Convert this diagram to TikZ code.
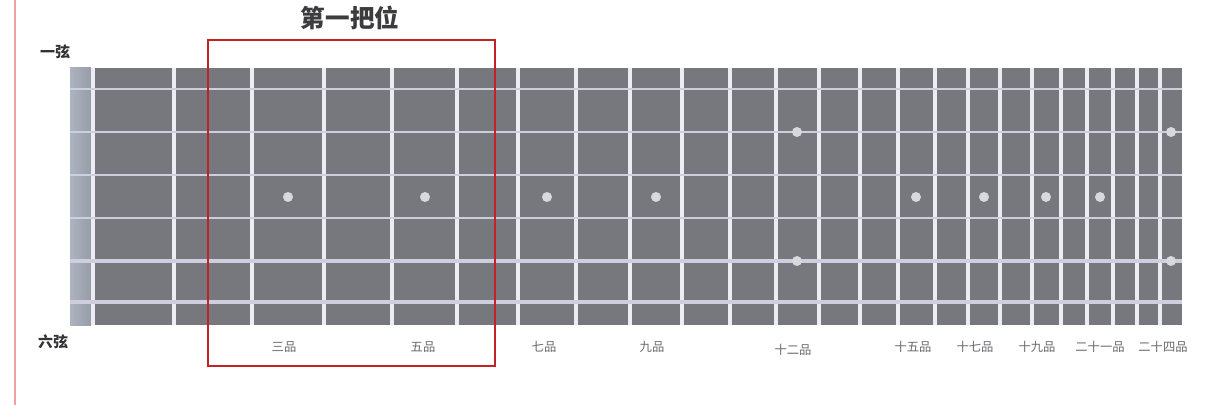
\documentclass[tikz,border=0pt]{standalone}
\usepackage{fontspec}
\usepackage{tikz}
\usepackage{xcolor}
\newfontfamily\cjk{Noto Sans CJK SC}

\definecolor{board}{RGB}{118,120,126}
\definecolor{nutlight}{RGB}{172,180,192}
\definecolor{nutdark}{RGB}{150,156,168}
\definecolor{fretwhite}{RGB}{236,236,242}
\definecolor{stringgray}{RGB}{206,206,222}
\definecolor{boxred}{RGB}{196,32,40}
\definecolor{edgepink}{RGB}{240,160,160}

\begin{document}
\begin{tikzpicture}[x=0.02cm, y=-0.02cm,
            fret/.style={draw=fretwhite, line width=1.8pt},
            markdot/.style={shape=circle, inner sep=0pt, minimum size=0.2cm, fill={rgb,255:red,216;green,216;blue,222}},
            fretlabel/.style={font=\cjk\fontsize{7}{8}\selectfont, text={rgb,255:red,105;green,105;blue,110}},
            stringlabel/.style={font=\cjk\bfseries\fontsize{8.5}{10}\selectfont, text={rgb,255:red,50;green,50;blue,55}}]
        \useasboundingbox (0,0) rectangle (1206,405);
        \fill[white] (0,0) rectangle (1206,405);
        \draw[edgepink, line width=0.7pt] (15,0) -- (15,405);

        % board and nut
        \fill[board] (70,68) rectangle (1182,325);
        \shade[left color=nutlight, right color=nutdark] (70,68) rectangle (91,325);
        \draw[fret] (93,68) -- (93,325);

        % frets
        \foreach \fx in {174,252,324,392,457,518,576,630,682,730,776,819,860,898,935,968,1000,1032,1061,1087,1113,1137,1160}
            \draw[fret] (\fx,68) -- (\fx,325);

        % strings
        \foreach \sy/\sw in {89/0.8pt,132/1.0pt,175/1.2pt,218/1.5pt,261/1.9pt,302/2.4pt}
            \draw[stringgray, line width=\sw] (70,\sy) -- (1182,\sy);

        % position marks
        \foreach \dx in {288,425,547,656,916,984,1046,1100}
            \node[markdot] (dot\dx) at (\dx,197) {};
        \node[markdot] (dotA) at (797,132) {};
        \node[markdot] (dotB) at (797,261) {};
        \node[markdot] (dotC) at (1171,132) {};
        \node[markdot] (dotD) at (1171,261) {};

        % fret names
        \node[fretlabel] (f3) at (284,347) {三品};
        \node[fretlabel] (f5) at (423,347) {五品};
        \node[fretlabel] (f7) at (544,347) {七品};
        \node[fretlabel] (f9) at (652,347) {九品};
        \node[fretlabel] (f12) at (793,350) {十二品};
        \node[fretlabel] (f15) at (913,347) {十五品};
        \node[fretlabel] (f17) at (975,347) {十七品};
        \node[fretlabel] (f19) at (1037,347) {十九品};
        \node[fretlabel] (f21) at (1100,347) {二十一品};
        \node[fretlabel] (f24) at (1163,347) {二十四品};

        \node[stringlabel] (s1) at (55,52) {一弦};
        \node[stringlabel] (s6) at (53,342) {六弦};

        % first position
        \draw[boxred, line width=1.2pt] (208,40) rectangle (495,366);
        \node[font=\cjk\bfseries\fontsize{14}{16}\selectfont, text={rgb,255:red,60;green,60;blue,62}] (title) at (350,18) {第一把位};
    \end{tikzpicture}
\end{document}
